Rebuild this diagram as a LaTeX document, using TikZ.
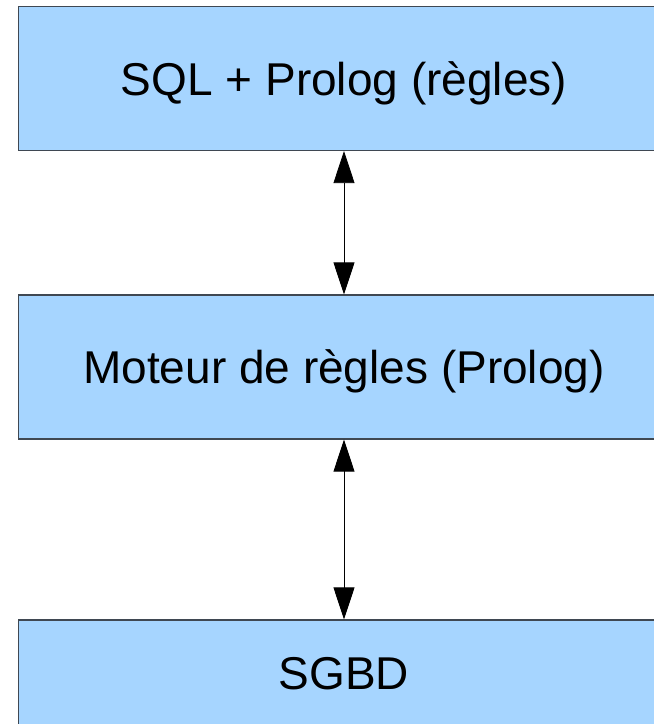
\documentclass[tikz,border=0pt]{standalone}
\usepackage{fontspec}
\setmainfont{Liberation Sans}
\usetikzlibrary{arrows.meta}
\definecolor{layerfill}{HTML}{A6D5FF}
\definecolor{layerline}{HTML}{3F4852}

\begin{document}
\begin{tikzpicture}[x=1pt, y=-1pt,
    layer/.style={draw=layerline, line width=1.2pt, fill=layerfill, rectangle,
      minimum width=651pt, minimum height=144pt, inner sep=0pt,
      text height=33pt, text depth=0pt,
      font=\fontsize{46}{55}\selectfont},
    link/.style={{Triangle[length=32pt, width=21pt]}-{Triangle[length=32pt, width=21pt]}, line width=0.8pt}]
  \useasboundingbox (0, 0) rectangle (654, 724);
  \clip (0, 0) rectangle (654, 724);

  % Layers
  \node[layer] (sql) at (344, 78.5) {SQL + Prolog (règles)};
  \node[layer] (moteur) at (344, 367) {Moteur de règles (Prolog)};
  \node[layer, minimum height=105pt] (sgbd) at (344, 672.5) {SGBD};

  % Links between layers
  \draw[link] (sql) -- (moteur);
  \draw[link] (moteur) -- (sgbd);
\end{tikzpicture}
\end{document}
